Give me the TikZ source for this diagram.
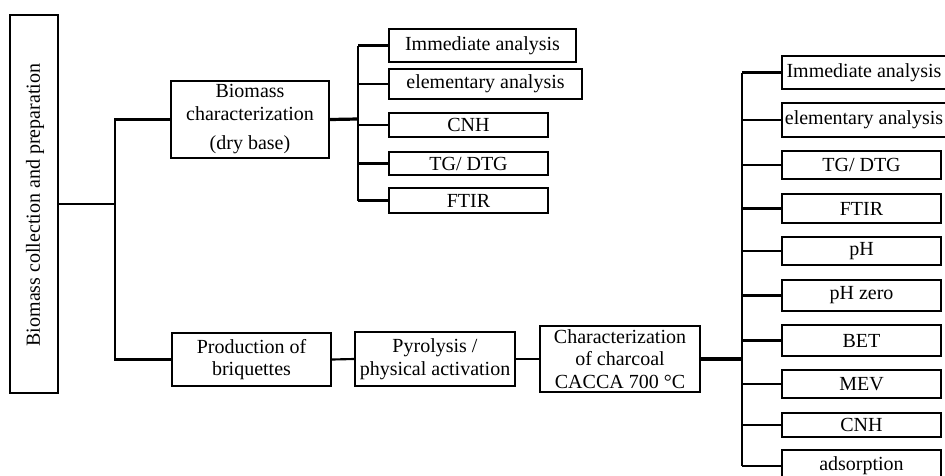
\documentclass[tikz,border=0pt]{standalone}
\usepackage{fontspec}
\setmainfont{Liberation Serif}
\newdimen\pxu \pxu=0.75pt
\begin{document}
\begin{tikzpicture}[x=0.75pt,y=-0.75pt,
  box/.style={draw, line width=1.6pt, inner sep=0pt, align=center, font=\fontsize{15}{17}\selectfont},
  txt/.style={inner sep=0pt, align=center, font=\fontsize{15}{17}\selectfont},
  sz/.style 2 args={minimum width=#1\pxu, minimum height=#2\pxu},
  conn/.style={line width=1.6pt},
  thickconn/.style={line width=2.4pt}]
\useasboundingbox (0,0) rectangle (945,475);
\fill[white] (0,0) rectangle (945,475);
\clip (0,0) rectangle (945,475);

% left box
\node[box, sz={48}{378}] (collect) at (34,204) {};
\node[txt, rotate=90] (collecttxt) at (35,205) {Biomass collection and preparation};

% upper branch
\node[box, sz={158}{77}] (biochar) at (250,119.5) {Biomass\\characterization\\[5pt](dry base)};
\node[box, sz={187}{33}] (a1) at (482.5,45.5) {Immediate analysis};
\node[box, sz={193}{30}] (a2) at (485.5,84) {elementary analysis};
\node[box, sz={159}{24}] (a3) at (468.5,125) {CNH};
\node[box, sz={159}{23}] (a4) at (468.5,163.5) {TG/ DTG};
\node[box, sz={159}{25}] (a5) at (468.5,200.5) {FTIR};

% lower branch
\node[box, sz={159}{53}] (prod) at (251.5,359.5) {Production of\\briquettes};
\node[box, sz={160}{54}] (pyro) at (435,359) {Pyrolysis /\\physical activation};
\node[box, sz={160}{66}] (charc) at (620,359) {Characterization\\of charcoal\\CACCA 700 °C};

% right column
\node[box, sz={176}{33}] (b1) at (870,72.5) {\hspace*{-9pt}Immediate analysis};
\node[box, sz={176}{34}] (b2) at (870,120) {\hspace*{-9pt}elementary analysis};
\node[box, sz={159}{28}] (b3) at (861.5,165) {TG/ DTG};
\node[box, sz={159}{29}] (b4) at (861.5,208.5) {FTIR};
\node[box, sz={159}{28}] (b5) at (861.5,251) {pH};
\node[box, sz={159}{31}] (b6) at (861.5,295.5) {pH zero};
\node[box, sz={159}{31}] (b7) at (861.5,340.5) {BET};
\node[box, sz={159}{28}] (b8) at (861.5,384) {MEV};
\node[box, sz={159}{24}] (b9) at (861.5,425) {CNH};
\node[box, sz={159}{32}] (b10) at (861.5,466) {adsorption};

% coordinates
\coordinate (j1) at (115,204);
\coordinate (t1) at (358,119);
\coordinate (t2) at (742,359);

% connectors left
\draw[conn] (collect.east) -- (j1);
\draw[conn] (biochar.west) -| (j1) |- (prod.west);

% upper trunk
\draw[thickconn] (biochar.east) -- (t1);
\draw[conn] (a1.west -| t1) -- (a5.west -| t1);
\foreach \n in {a1,a2,a3,a4,a5} \draw[conn] (\n.west -| t1) -- (\n.west);

% lower chain
\draw[conn] (prod.east) -- (pyro.west);
\draw[conn] (pyro.east) -- (charc.west);
\draw[thickconn] (charc.east) -- (t2);

% right trunk
\draw[conn] (b1.west -| t2) -- (b10.west -| t2);
\foreach \n in {b1,b2,b3,b4,b5,b6,b7,b8,b9,b10} \draw[conn] (\n.west -| t2) -- (\n.west);
\end{tikzpicture}
\end{document}
